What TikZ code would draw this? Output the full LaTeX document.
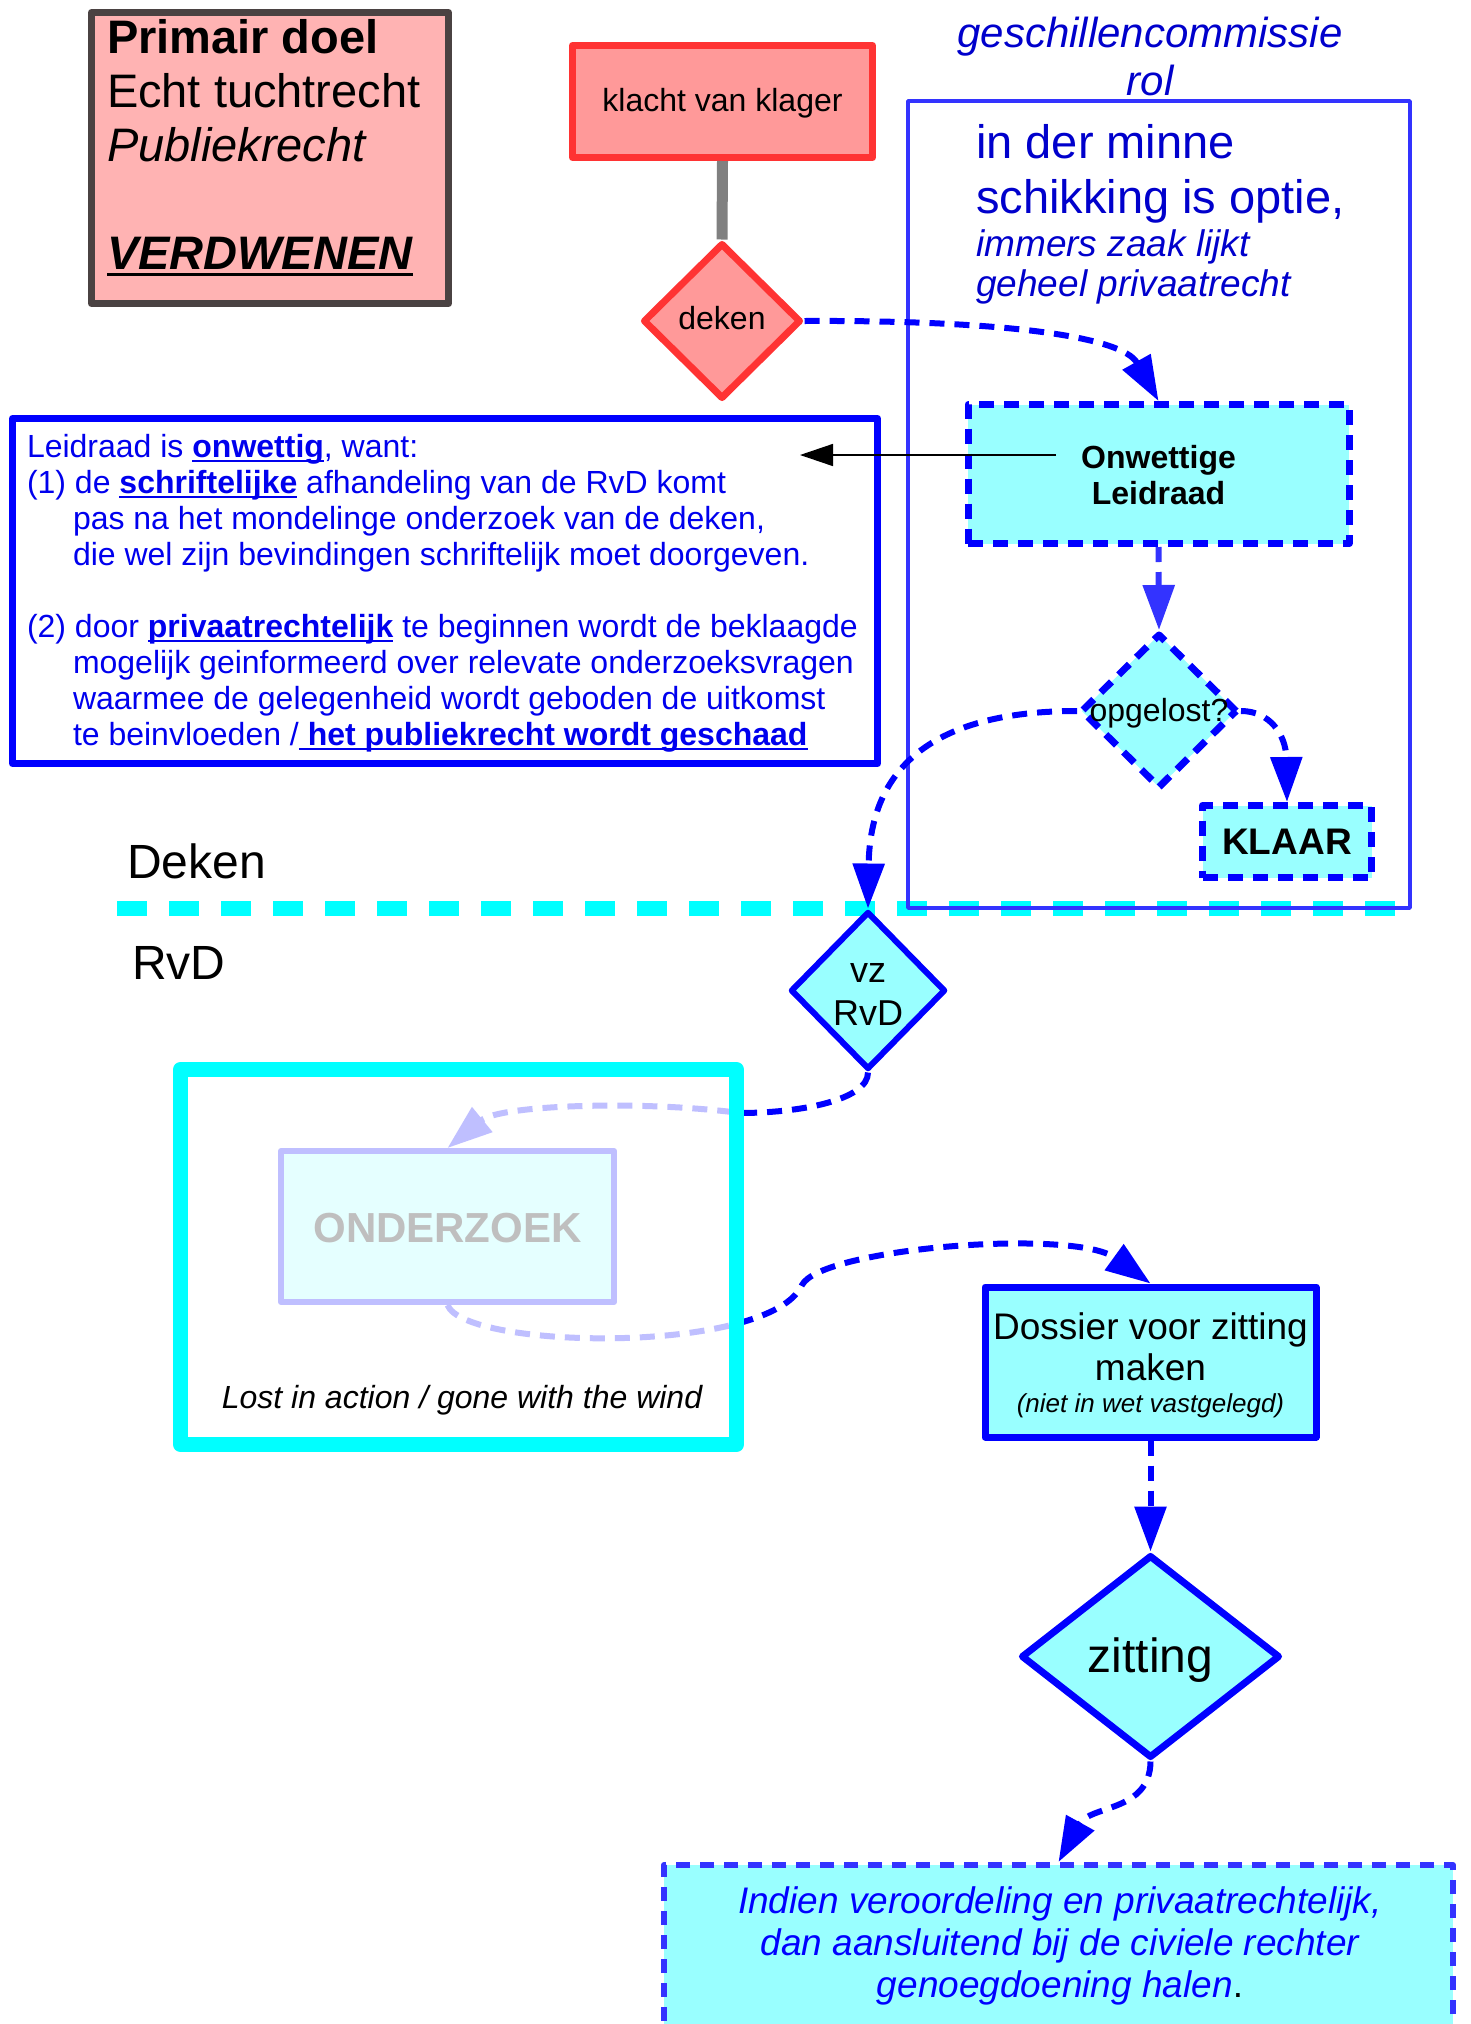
\documentclass[tikz,border=0pt]{standalone}
\usepackage{fontspec}
\setmainfont{Liberation Sans}
\usetikzlibrary{shapes.geometric,arrows.meta}

\definecolor{pinkfill}{HTML}{FFB3B3}
\definecolor{darkframe}{HTML}{4A4242}
\definecolor{redfill}{HTML}{FF9999}
\definecolor{redline}{HTML}{FF3333}
\definecolor{stemgray}{HTML}{808080}
\definecolor{aqua}{HTML}{99FFFF}
\definecolor{cyanline}{HTML}{00FFFF}
\definecolor{pureblue}{HTML}{0000FF}
\definecolor{softblue}{HTML}{3333FF}
\definecolor{navytext}{HTML}{0000CC}
\definecolor{leidblue}{HTML}{0000EE}

% text placed relative to the centre of its node: baseline raised by #1
\newcommand\atc[2]{\makebox[0pt]{\smash{\raisebox{#1}{#2}}}}
% left aligned text: shifted by #1, baseline raised by #2
\newcommand\atl[3]{\makebox[0pt][l]{\hspace*{#1}\smash{\raisebox{#2}{#3}}}}
% underline with a rule that scales with the font
\newcommand\myul[1]{\setbox0=\hbox{#1}\rlap{\rule[-0.15em]{\wd0}{0.065em}}\box0\relax}
\newcommand\setsz[2]{\fontsize{#1}{#2}\selectfont}

\begin{document}
\begin{tikzpicture}[x=1pt,y=-1pt,
  every node/.style={inner sep=0pt},
  primairbox/.style={rectangle, draw=darkframe, fill=pinkfill, line width=7pt, line join=round},
  redbox/.style={rectangle, draw=redline, fill=redfill, line width=7pt, line join=round},
  reddiamond/.style={diamond, draw=redline, fill=redfill, line width=7pt, line join=round},
  aquadash/.style={draw=pureblue, fill=aqua, line width=7pt, dash pattern=on 15pt off 10pt, line join=round},
  aquasolid/.style={draw=pureblue, fill=aqua, line width=7pt, line join=round},
  conn/.style={draw=pureblue, line width=6pt, dash pattern=on 15pt off 10pt,
    -{Triangle[length=45pt,width=31pt]}},
]
\useasboundingbox (0,0) rectangle (1471,2024);
\clip (0,0) rectangle (1471,2024);
\fill[white] (0,0) rectangle (1471,2024);

% divider between the two phases
\draw[cyanline, line width=15pt, dash pattern=on 30pt off 22pt] (117,908) -- (1400,908);

% frame of the dispute committee
\node[draw=softblue, line width=3.5pt, line join=round, minimum width=502pt, minimum height=807pt] (gcframe) at (1159,504.5) {};
\node[anchor=base, text=navytext, font=\itshape\setsz{42}{48}] (gctitle) at (1150,47)
  {\begin{tabular}[t]{@{}c@{}}geschillencommissie\\rol\end{tabular}};
\node[anchor=base west, text=navytext, font=\setsz{47}{55}] (gcminne) at (976,158)
  {\begin{tabular}[t]{@{}l@{}}in der minne\\schikking is optie,\end{tabular}};
\node[anchor=base west, text=navytext, font=\itshape\setsz{37}{40}] (gcimmers) at (976,256)
  {\begin{tabular}[t]{@{}l@{}}immers zaak lijkt\\geheel privaatrecht\end{tabular}};

% goal box
\node[primairbox, minimum width=357pt, minimum height=291pt, font=\setsz{47}{54}] (primair) at (270,158)
  {\atl{-163pt}{104.7pt}{\begin{tabular}[t]{@{}l@{}}\textbf{Primair doel}\\Echt tuchtrecht\\\textit{Publiekrecht}\\ \\\myul{\textbf{\textit{VERDWENEN}}}\end{tabular}}};

% complaint and dean
\node[redbox, minimum width=300pt, minimum height=112pt, font=\setsz{32}{37}] (klacht) at (722.5,101.5)
  {\atc{-10pt}{klacht van klager}};
\node[reddiamond, minimum width=158pt, minimum height=156pt, font=\setsz{32}{37}] (deken) at (722,321)
  {\atc{-8.3pt}{deken}};
\draw[line width=11pt, stemgray] (klacht.south) -- (deken.north);

% explanation box
\node[draw=pureblue, fill=white, line width=7pt, line join=round, minimum width=865pt, minimum height=345pt,
      text=leidblue, font=\setsz{32}{36}] (leid) at (445,591)
  {\atl{-418pt}{134pt}{\begin{tabular}[t]{@{}l@{}}
    Leidraad is \myul{\textbf{onwettig}}, want:\\
    (1) de \myul{\textbf{schriftelijke}} afhandeling van de RvD komt\\
    \hspace*{46pt}pas na het mondelinge onderzoek van de deken,\\
    \hspace*{46pt}die wel zijn bevindingen schriftelijk moet doorgeven.\\
    \\
    (2) door \myul{\textbf{privaatrechtelijk}} te beginnen wordt de beklaagde\\
    \hspace*{46pt}mogelijk geinformeerd over relevate onderzoeksvragen\\
    \hspace*{46pt}waarmee de gelegenheid wordt geboden de uitkomst\\
    \hspace*{46pt}te beinvloeden /\myul{\textbf{ het publiekrecht wordt geschaad}}
  \end{tabular}}};

% inside the committee frame
\node[aquadash, rectangle, minimum width=381pt, minimum height=139pt, font=\bfseries\setsz{32}{36}] (onw) at (1158.5,474)
  {\atc{6pt}{\begin{tabular}[t]{@{}c@{}}Onwettige\\Leidraad\end{tabular}}};
\node[aquadash, diamond, minimum width=157pt, minimum height=155pt, font=\setsz{32}{37}] (opg) at (1159,711)
  {\atc{-10pt}{opgelost?}};
\node[aquadash, rectangle, minimum width=169pt, minimum height=72pt, font=\bfseries\setsz{37}{42}] (klaar) at (1287,841.5)
  {\atc{-12.5pt}{KLAAR}};

% phase labels
\node[anchor=base west, font=\setsz{48}{54}] (dekenlabel) at (127,878) {Deken};
\node[anchor=base west, font=\setsz{48}{54}] (rvdlabel) at (132,979) {RvD};

% council side
\node[aquasolid, diamond, line width=6pt, minimum width=155pt, minimum height=158pt, font=\setsz{36}{43}] (vz) at (868,990.5)
  {\atc{8.5pt}{\begin{tabular}[t]{@{}c@{}}vz\\RvD\end{tabular}}};
\node[aquasolid, rectangle, line width=6pt, minimum width=333pt, minimum height=151pt, font=\bfseries\setsz{42}{48}] (onderzoek) at (447.5,1226.5)
  {\atc{-15.5pt}{ONDERZOEK}};
\node[aquasolid, rectangle, minimum width=331pt, minimum height=150pt, font=\setsz{37}{41}] (dossier) at (1150.5,1362)
  {\atc{22.5pt}{\begin{tabular}[t]{@{}c@{}}Dossier voor zitting\\maken\\[-9pt]{\itshape\setsz{26}{30}(niet in wet vastgelegd)}\end{tabular}}};
\node[aquasolid, diamond, minimum width=259pt, minimum height=203pt, font=\setsz{48}{55}] (zitting) at (1150.5,1656.5)
  {\atc{-15.5pt}{zitting}};
\node[draw=softblue, fill=aqua, line width=6pt, dash pattern=on 14pt off 10pt, line join=round,
      minimum width=789pt, minimum height=200pt, anchor=north] (indien) at (1058.5,1862) {};
\node[anchor=base, text=pureblue, font=\itshape\setsz{37}{42}] (indientext) at (1060,1913)
  {\begin{tabular}[t]{@{}c@{}}Indien veroordeling en privaatrechtelijk,\\dan aansluitend bij de civiele rechter\\genoegdoening halen{\upshape\color{black}.}\end{tabular}};

% flow
\draw[conn] (deken.east) .. controls (1000,320) and (1122,336) .. (onw.north);
\draw[conn, draw=softblue] (onw.south) -- (opg.north);
\draw[conn] (opg.east) .. controls (1270,711) and (1286,735) .. (klaar.north);
\draw[conn] (opg.west) .. controls (930,711) and (870,770) .. (vz.north);
\draw[conn] (vz.south) .. controls (868,1100) and (800,1113) .. (740,1113)
  .. controls (640,1100) and (500,1105) .. (onderzoek.north);
\draw[conn] (onderzoek.south) .. controls (465,1350) and (770,1355) .. (802,1285)
  .. controls (821,1248) and (1074,1228) .. (dossier.north);
\draw[conn] (dossier.south) -- (zitting.north);
\draw[conn] (zitting.south) .. controls (1150,1812) and (1090,1805) .. (indien.north);

% the investigation gets washed out
\node[draw=cyanline, fill=white, fill opacity=0.75, line width=15pt, line join=round,
      minimum width=556pt, minimum height=375pt] (lost) at (458.5,1257) {};
\node[anchor=base, font=\itshape\setsz{32}{37}] (losttext) at (462,1408) {Lost in action / gone with the wind};

% pointer to the explanation
\coordinate (notefrom) at (1056,455);
\coordinate (noteto) at (800,455);
\draw[line width=1.5pt, -{Triangle[length=33pt,width=22pt]}] (notefrom) -- (noteto);
\end{tikzpicture}
\end{document}
